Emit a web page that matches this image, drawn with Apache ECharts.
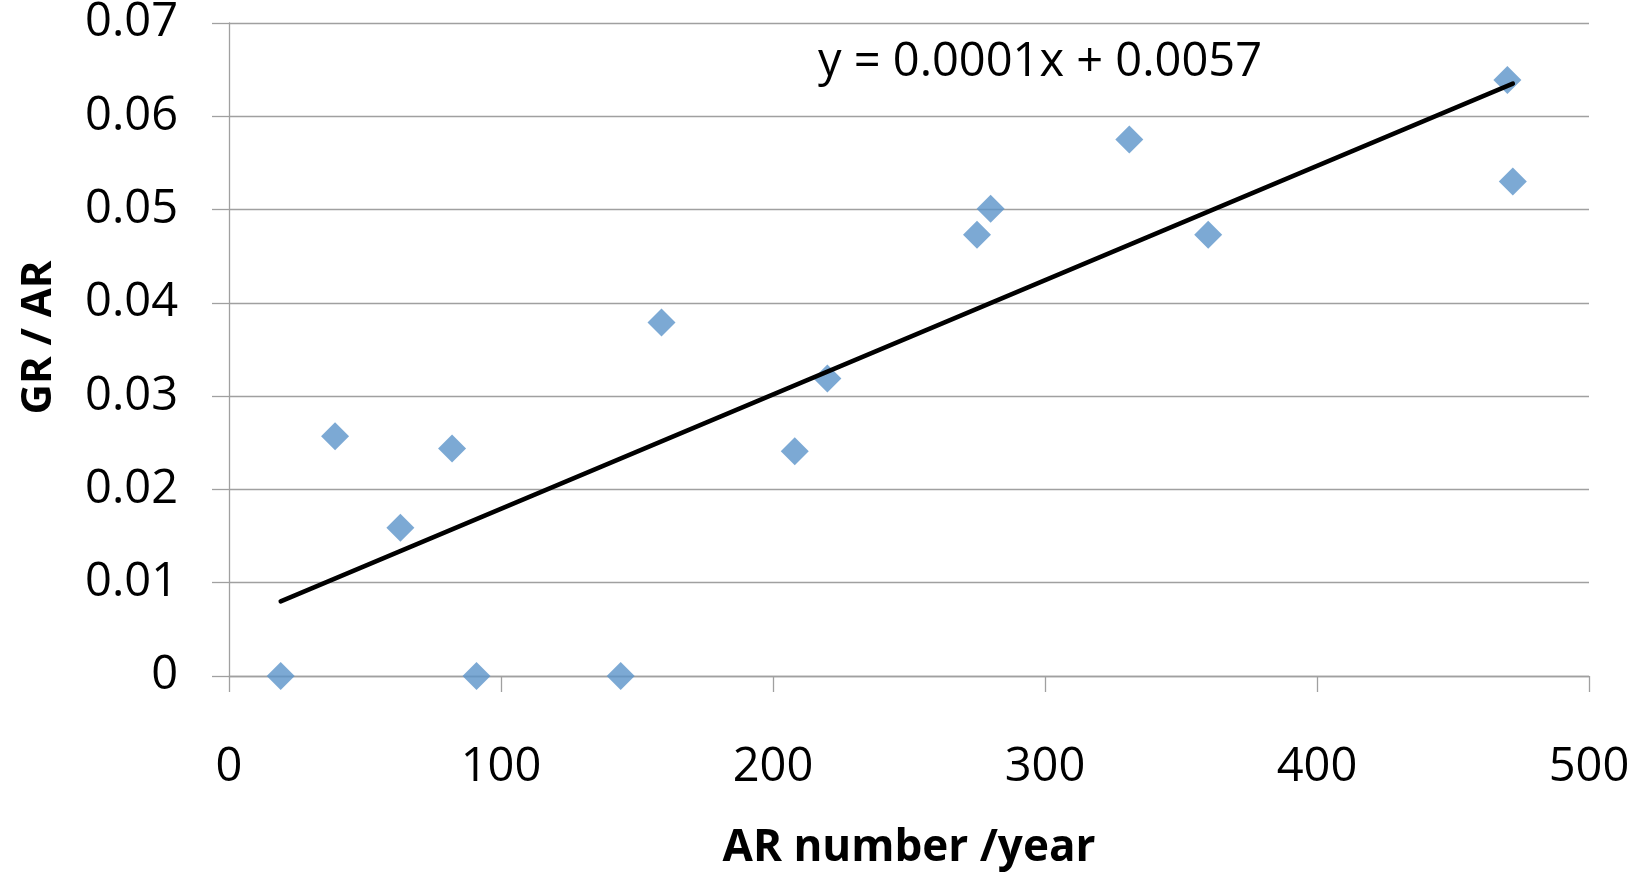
<!DOCTYPE html>
<html>
<head>
<meta charset="utf-8">
<script src="https://cdn.jsdelivr.net/npm/echarts@6/dist/echarts.min.js"></script>
<style>
html,body{margin:0;padding:0;background:#fff;}
#chart{width:1639px;height:874px;}
</style>
</head>
<body>
<div id="chart"></div>
<script>
// AR number per year (x) and GR/AR ratio (y)
const arNumber = [19, 39, 63, 82, 91, 144, 159, 208, 220, 275, 280, 331, 360, 470, 472];
const grRatio  = [0, 0.0257, 0.0159, 0.0244, 0, 0, 0.0379, 0.0241, 0.0319, 0.0473, 0.0501, 0.0575, 0.0473, 0.0639, 0.0530];
// linear trendline endpoints as drawn
const trendX = [19, 472];
const trendY = [0.0080, 0.0635];
const equationText = 'y = 0.0001x + 0.0057';
const xTicks = [0, 100, 200, 300, 400, 500];
const yTicks = [0, 0.01, 0.02, 0.03, 0.04, 0.05, 0.06, 0.07];

const chart = echarts.init(document.getElementById('chart'));
const gray = '#a0a0a0';
const font = '"Open Sans", "Noto Sans", sans-serif';

chart.setOption({
  animation: false,
  backgroundColor: '#fff',
  grid: { left: 229, top: 23, width: 1360, height: 653, outerBoundsMode: 'none', containLabel: false },
  xAxis: {
    type: 'value',
    min: xTicks[0], max: xTicks[xTicks.length - 1], interval: 100,
    name: 'AR number /year',
    nameLocation: 'middle',
    nameGap: 150,
    nameTextStyle: { fontFamily: font, fontSize: 44, fontWeight: 'bold', color: '#000' },
    axisLine: { show: true, lineStyle: { color: gray, width: 1.3 } },
    axisTick: { show: true, length: 16, lineStyle: { color: gray, width: 1.3 } },
    axisLabel: { fontFamily: font, fontSize: 47, color: '#000', margin: 68 },
    splitLine: { show: false }
  },
  yAxis: {
    type: 'value',
    min: yTicks[0], max: yTicks[yTicks.length - 1], interval: 0.01,
    name: 'GR / AR',
    nameLocation: 'middle',
    nameGap: 169,
    nameTextStyle: { fontFamily: font, fontSize: 42, fontWeight: 'bold', color: '#000', padding: [0, 0, 0, 24] },
    axisLine: { show: true, lineStyle: { color: gray, width: 1.3 } },
    axisTick: { show: true, length: 17, lineStyle: { color: gray, width: 1.3 } },
    axisLabel: { fontFamily: font, fontSize: 47, color: '#000', margin: 51, padding: [9, 0, 0, 0] },
    splitLine: { show: true, lineStyle: { color: gray, width: 1.3 } }
  },
  graphic: [{
    type: 'text',
    x: 1040, y: 63,
    style: {
      text: equationText,
      fontFamily: font, fontSize: 47, fill: '#000',
      textAlign: 'center', textVerticalAlign: 'middle'
    }
  }],
  series: [
    {
      type: 'scatter',
      data: arNumber.map((x, i) => [x, grRatio[i]]),
      symbol: 'diamond',
      symbolSize: 28,
      itemStyle: { color: '#5b94c9' },
      z: 2
    },
    {
      type: 'line',
      data: trendX.map((x, i) => [x, trendY[i]]),
      symbol: 'none',
      lineStyle: { color: '#000', width: 4.5, cap: 'round' },
      z: 3
    }
  ]
});
</script>
</body>
</html>
